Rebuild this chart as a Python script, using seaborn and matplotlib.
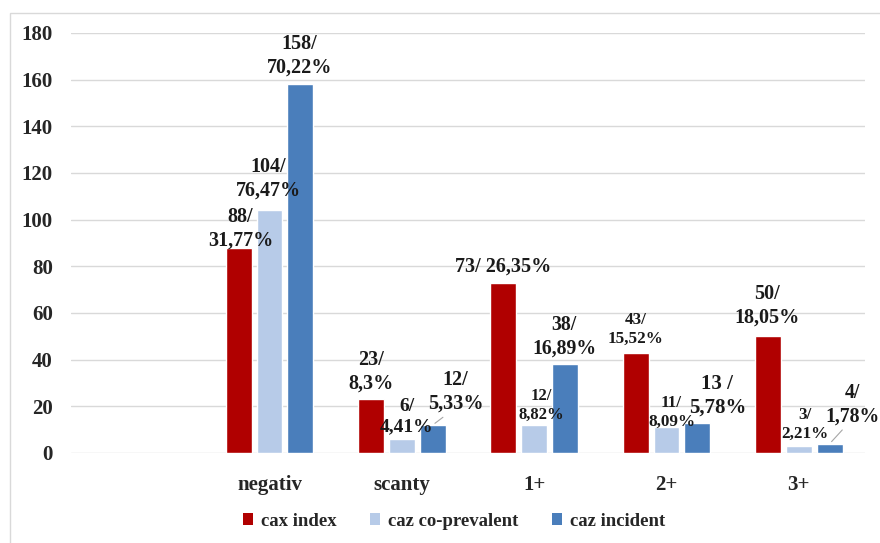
import matplotlib
matplotlib.use("Agg")
import matplotlib.pyplot as plt
from matplotlib.patches import Patch, Rectangle
import seaborn as sns
import pandas as pd

# Smear grade categories and counts per case type
categories = ["negativ", "scanty", "1+", "2+", "3+"]
series_names = ["cax index", "caz co-prevalent", "caz incident"]
cax_index = [88, 23, 73, 43, 50]
caz_coprevalent = [104, 6, 12, 11, 3]
caz_incident = [158, 12, 38, 13, 4]

# Percentages shown next to each count
pct_index = ["31,77%", "8,3%", "26,35%", "15,52%", "18,05%"]
pct_coprevalent = ["76,47%", "4,41%", "8,82%", "8,09%", "2,21%"]
pct_incident = ["70,22%", "5,33%", "16,89%", "5,78%", "1,78%"]

y_ticks = [0, 20, 40, 60, 80, 100, 120, 140, 160, 180]

colors = ["#B00000", "#B7CBE8", "#4A7EBB"]

rows = []
for name, vals in zip(series_names, [cax_index, caz_coprevalent, caz_incident]):
    for cat, v in zip(categories, vals):
        rows.append({"grade": cat, "series": name, "count": v})
df = pd.DataFrame(rows)

sns.set_theme(style="white")
plt.rcParams["font.family"] = ["Liberation Serif", "DejaVu Serif"]
plt.rcParams["font.weight"] = "bold"

fig = plt.figure(figsize=(8.8, 5.43), dpi=100)
ax = fig.add_axes([71 / 880, 1 - 453 / 543, (865 - 71) / 880, (453 - 33) / 543])

sns.barplot(data=df, x="grade", y="count", hue="series", order=categories,
            hue_order=series_names, palette=colors, width=0.7, gap=0.16,
            errorbar=None, saturation=1, legend=False, ax=ax, zorder=3)

ax.set_xlim(-1.5, len(categories) - 0.5)
ax.set_ylim(0, 180)
ax.set_yticks(y_ticks)
ax.set_yticklabels([str(t) for t in y_ticks], fontsize=15, fontweight="bold")
ax.set_xticks(range(len(categories)))
ax.set_xticklabels(categories, fontsize=15, fontweight="bold")
ax.tick_params(axis="y", length=0, pad=13)
ax.tick_params(axis="x", length=0, pad=15.5)
ax.set_xlabel("")
ax.set_ylabel("")
ax.yaxis.grid(True, color="#d9d9d9", lw=1.0, zorder=0)
ax.set_axisbelow(True)
for s in ax.spines.values():
    s.set_visible(False)

# Data labels: "count/ percent" with per-label offsets (pixels) and sizes
label_text = [
    [f"{c}/\n{p}" for c, p in zip(cax_index, pct_index)],
    [f"{c}/\n{p}" for c, p in zip(caz_coprevalent, pct_coprevalent)],
    [f"{c}/\n{p}" for c, p in zip(caz_incident, pct_incident)],
]
label_text[0][2] = f"{cax_index[2]}/ {pct_index[2]}"
label_text[2][3] = f"{caz_incident[3]} /\n{pct_incident[3]}"

offsets = [
    [(2, -3), (0, 6), (0, 6), (0, 6), (-1, 9)],
    [(-1, 10), (5, 4), (7, 2), (5, -3), (6, 4)],
    [(-1, 7), (23, 11), (-1, 6), (20, 5), (23, 17)],
]
sizes = [
    [14.5, 14.5, 14.5, 12.3, 14.5],
    [14.5, 14, 12, 12.3, 12.3],
    [14.5, 14.5, 14.2, 15, 14.2],
]
leaders = [
    [False] * 5,
    [False] * 5,
    [False, True, False, False, True],
]

for si, cont in enumerate(ax.containers):
    for ci, bar in enumerate(cont.patches):
        xc = bar.get_x() + bar.get_width() / 2
        top = bar.get_height()
        kw = {}
        if leaders[si][ci]:
            kw["arrowprops"] = dict(arrowstyle="-", color="#a6a6a6", lw=0.8,
                                    shrinkA=0, shrinkB=2,
                                    relpos=(0.4, 0.05))
        ax.annotate(label_text[si][ci], xy=(xc, top),
                    xytext=offsets[si][ci], textcoords="offset pixels",
                    ha="center", va="bottom", fontsize=sizes[si][ci],
                    fontweight="bold", linespacing=1.25, color="#1a1a1a",
                    zorder=5, **kw)

handles = [Patch(facecolor=c, edgecolor="none") for c in colors]
fig.legend(handles, series_names, loc="center",
           bbox_to_anchor=(454 / 880, 1 - 521 / 543), ncol=3, frameon=False,
           prop={"family": "Liberation Serif", "weight": "bold", "size": 13.5},
           handlelength=0.55, handleheight=0.55, handletextpad=0.4,
           columnspacing=1.8)

# Thin light frame around the chart area
fig.patches.append(Rectangle((10 / 880, -0.05), 1.1, 1.05 - 13 / 543,
                             transform=fig.transFigure, fill=False,
                             edgecolor="#d9d9d9", lw=1.0))

fig.savefig("out.png", dpi=100)
